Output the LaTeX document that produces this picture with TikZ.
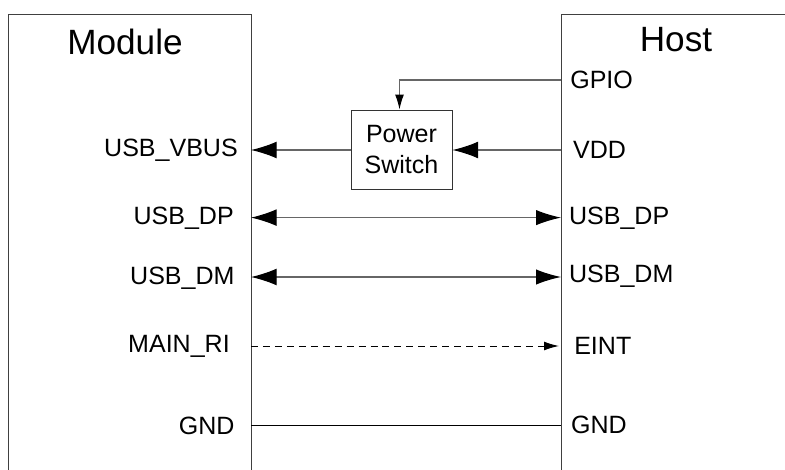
\documentclass[tikz,border=0pt]{standalone}
\usepackage{fontspec}
\setmainfont{Liberation Sans}
\usetikzlibrary{arrows.meta,positioning}

\begin{document}
\begin{tikzpicture}[
        font=\fontsize{17.8}{20}\selectfont,
        title/.style={font=\fontsize{25}{28}\selectfont},
        frame/.style={draw=black!75, line width=0.7pt},
        sw/.style={draw=black!80, line width=0.7pt, minimum width=2.525cm, minimum height=1.975cm, align=center, inner sep=0pt},
        pinL/.style={anchor=east, inner sep=0pt},
        pinR/.style={anchor=west, inner sep=0pt},
        wire/.style={draw=black!60, line width=0.8pt},
        bigTip/.style={-{Latex[length=0.64cm, width=0.42cm, color=black]}},
        bothTip/.style={{Latex[length=0.64cm, width=0.42cm, color=black]}-{Latex[length=0.62cm, width=0.38cm, color=black]}},
        smallTip/.style={-{Latex[length=0.37cm, width=0.22cm, color=black]}}
    ]

        \useasboundingbox (0,0) rectangle (19.625,-11.75);

        % ========================================================
        % MARCOS
        % ========================================================
        \draw[frame] (0.2,-11.75) -- (0.2,-0.35) -- (6.275,-0.35) -- (6.275,-11.75);
        \draw[frame] (19.625,-0.35) -- (14.025,-0.35) -- (14.025,-11.75);

        \node[title] (module) at (3.125,-1.05) {Module};
        \node[title] (host) at (16.9,-1.0) {Host};

        % ========================================================
        % SENALES MODULO
        % ========================================================
        \node[pinL] (vbus) at (5.95,-3.75) {USB\_VBUS};
        \node[pinL] (dpL) at (5.85,-5.45) {USB\_DP};
        \node[pinL] (dmL) at (5.87,-6.95) {USB\_DM};
        \node[pinL] (ri) at (5.75,-8.65) {MAIN\_RI};
        \node[pinL] (gndL) at (5.87,-10.65) {GND};

        % ========================================================
        % SENALES HOST
        % ========================================================
        \node[pinR] (gpio) at (14.25,-2.0) {GPIO};
        \node[pinR] (vdd) at (14.32,-3.75) {VDD};
        \node[pinR] (dpR) at (14.22,-5.45) {USB\_DP};
        \node[pinR] (dmR) at (14.22,-6.9) {USB\_DM};
        \node[pinR] (eint) at (14.35,-8.65) {EINT};
        \node[pinR] (gndR) at (14.27,-10.62) {GND};

        % puntos de conexion sobre los marcos
        \coordinate (mVbus) at (6.275,-3.75);
        \coordinate (mDp) at (6.275,-5.44);
        \coordinate (mDm) at (6.275,-6.925);
        \coordinate (mRi) at (6.275,-8.65);
        \coordinate (mGnd) at (6.275,-10.625);
        \coordinate (hGpio) at (14.025,-2.0);
        \coordinate (hVdd) at (14.025,-3.75);
        \coordinate (hDp) at (14.025,-5.44);
        \coordinate (hDm) at (14.025,-6.925);
        \coordinate (hRi) at (14.025,-8.65);
        \coordinate (hGnd) at (14.025,-10.625);

        % ========================================================
        % POWER SWITCH
        % ========================================================
        \node[sw] (pwr) at (10.0375,-3.7375) {Power\\[2pt]Switch};

        \draw[wire, smallTip] (hGpio) -| ([xshift=-0.05cm]pwr.north);
        \draw[wire, bigTip] (hVdd) -- (pwr.east |- hVdd);
        \draw[wire, bigTip] (pwr.west |- mVbus) -- (mVbus);

        % ========================================================
        % LINEAS USB / RI / GND
        % ========================================================
        \draw[wire, bothTip] (mDp) -- (hDp);
        \draw[wire, bothTip] (mDm) -- (hDm);
        \draw[draw=black, line width=0.7pt, dash pattern=on 5pt off 3.5pt, smallTip, shorten >=1.5pt] (mRi) -- (hRi);
        \draw[draw=black, line width=0.7pt] (mGnd) -- (hGnd);

    \end{tikzpicture}
\end{document}
